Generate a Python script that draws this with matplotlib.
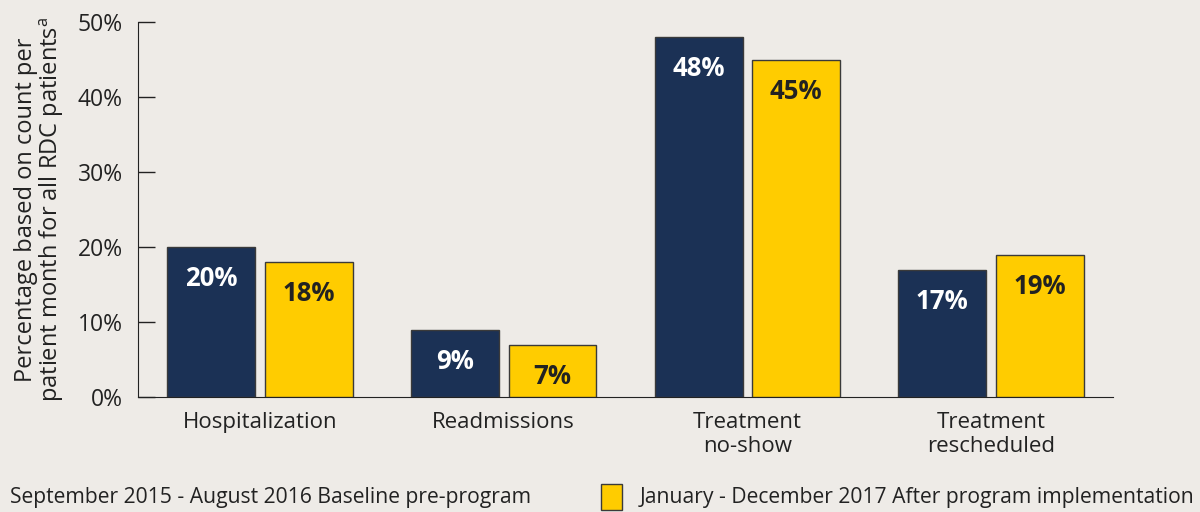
import matplotlib
matplotlib.use("Agg")
import matplotlib.pyplot as plt
from matplotlib.patches import Rectangle
import numpy as np

categories = ["Hospitalization", "Readmissions", "Treatment\nno-show", "Treatment\nrescheduled"]
baseline = [20, 9, 48, 17]
after = [18, 7, 45, 19]
series_names = ["September 2015 - August 2016 Baseline pre-program",
                "January - December 2017 After program implementation"]
yticks = [0, 10, 20, 30, 40, 50]

bg = "#EEEBE7"
navy = "#1B3155"
yellow = "#FFCC00"
txt = "#222222"

plt.rcParams['font.family'] = ['Open Sans', 'DejaVu Sans']
plt.rcParams['mathtext.fontset'] = 'custom'
plt.rcParams['mathtext.rm'] = 'Open Sans'

fig = plt.figure(figsize=(12, 5.12), dpi=100, facecolor=bg)
ax = fig.add_axes([138/1200, 1-397/512, (1113-138)/1200, (397-22)/512])
ax.set_facecolor(bg)

x = np.arange(len(categories))
w = 0.36
off = 0.2
b1 = ax.bar(x-off, baseline, w, color=navy, edgecolor="#3a3a3a", linewidth=1, zorder=3)
b2 = ax.bar(x+off, after, w, color=yellow, edgecolor="#3a3a3a", linewidth=1, zorder=3)

for bars, vals, c in [(b1, baseline, "white"), (b2, after, txt)]:
    for r, v in zip(bars, vals):
        ax.annotate(f"{v}%", (r.get_x()+r.get_width()/2, v), xytext=(0, -23),
                    textcoords="offset points", ha="center", va="center",
                    fontsize=18.5, fontweight="bold", color=c, zorder=4)

ax.set_xlim(-0.5, 3.5)
ax.set_ylim(0, 50)
ax.set_yticks(yticks)
ax.set_yticklabels([f"{t}%" for t in yticks])
ax.set_xticks(x)
ax.set_xticklabels(categories, linespacing=1.2)
ax.tick_params(axis="y", direction="in", length=12, width=1, pad=11, labelsize=16.5,
               colors=txt, labelcolor=txt)
ax.tick_params(axis="x", length=0, pad=11, labelsize=16, labelcolor=txt)
for s in ["top", "right"]:
    ax.spines[s].set_visible(False)
ax.spines["left"].set_color(txt)
ax.spines["bottom"].set_color(txt)

ax.set_ylabel("Percentage based on count per\npatient month for all RDC patients$^{\\mathrm{a}}$",
              fontsize=17, color=txt, labelpad=8, linespacing=1.0)

# legend row
fig.text(10/1200, 1-497/512, series_names[0], fontsize=15.2, color=txt, va="center", ha="left")
fig.patches.append(Rectangle((601/1200, 1-510/512), 21/1200, 26/512, transform=fig.transFigure,
                             facecolor=yellow, edgecolor="#3a3a3a", linewidth=1))
fig.text(640/1200, 1-497/512, series_names[1], fontsize=15.2, color=txt, va="center", ha="left")

fig.savefig("out.png", dpi=100, facecolor=bg)
